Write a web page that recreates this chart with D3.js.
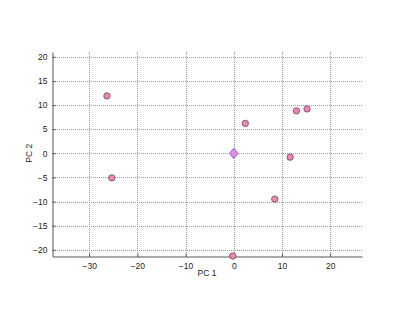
<!DOCTYPE html>
<html><head><meta charset="utf-8">
<script src="https://cdn.jsdelivr.net/npm/d3@7"></script>
<style>body{margin:0;background:#fff;} svg{display:block;}</style>
</head><body>
<svg id="c" width="400" height="319"></svg>
<script>
const pc1 = [-26.3, -25.3, 2.4, 13.0, 15.2, 11.7, 8.5, -0.2];
const pc2 = [11.9, -5.1, 6.2, 8.8, 9.2, -0.8, -9.5, -21.3];
const centerPoint = [0, 0];
const xTicks = [-30, -20, -10, 0, 10, 20];
const yTicks = [-20, -15, -10, -5, 0, 5, 10, 15, 20];

const svg = d3.select("#c");
const L = 52.5, R = 362, T = 52, B = 256.5;
const x = d3.scaleLinear().domain([-37.6, 26.6]).range([L, R]);
const y = d3.scaleLinear().domain([-21.4, 21.0]).range([B, T]);
const px = v => Math.round(v) + 0.5;

const grid = svg.append("g").attr("shape-rendering", "crispEdges");
grid.selectAll("line.v").data(xTicks).enter().append("line")
  .attr("x1", d => px(x(d))).attr("x2", d => px(x(d))).attr("y1", T).attr("y2", B)
  .attr("stroke", "#999").attr("stroke-width", 1).attr("stroke-dasharray", "1,1");
grid.selectAll("line.h").data(yTicks).enter().append("line")
  .attr("x1", L).attr("x2", R).attr("y1", d => px(y(d))).attr("y2", d => px(y(d)))
  .attr("stroke", "#999").attr("stroke-width", 1).attr("stroke-dasharray", "1,1");

const font = "'Liberation Sans', Arial, sans-serif";
const xAxis = svg.append("g").attr("transform", `translate(0,${B})`)
  .call(d3.axisBottom(x).tickValues(xTicks).tickSize(-3).tickPadding(6).tickSizeOuter(0));
const yAxis = svg.append("g").attr("transform", `translate(${L},0)`)
  .call(d3.axisLeft(y).tickValues(yTicks).tickSize(-3).tickPadding(5).tickSizeOuter(0));
[xAxis, yAxis].forEach(a => {
  a.select(".domain").attr("stroke", "#555");
  a.selectAll(".tick line").attr("stroke", "#555");
  a.selectAll("text").attr("fill", "#222").style("font-family", font).style("font-size", "8.5px");
});

svg.append("text").attr("x", 207).attr("y", 276).attr("text-anchor", "middle")
  .style("font-family", font).style("font-size", "8.5px").attr("fill", "#222").text("PC 1");
svg.append("text").attr("transform", `translate(32,${y(0)}) rotate(-90)`).attr("text-anchor", "middle")
  .style("font-family", font).style("font-size", "8.5px").attr("fill", "#222").text("PC 2");

const pts = pc1.map((v, i) => [v, pc2[i]]);
svg.append("g").selectAll("circle").data(pts).enter().append("circle")
  .attr("cx", d => x(d[0])).attr("cy", d => y(d[1])).attr("r", 3.2)
  .attr("fill", "#f482b8").attr("stroke", "#555").attr("stroke-width", 0.8);

svg.append("path")
  .attr("d", "M0,-5L4.2,0L0,5L-4.2,0Z")
  .attr("transform", `translate(${x(centerPoint[0])},${y(centerPoint[1])})`)
  .attr("fill", "#f28ad0").attr("stroke", "#a07cf5").attr("stroke-width", 1.2).attr("stroke-linejoin", "round");
</script>
</body></html>
